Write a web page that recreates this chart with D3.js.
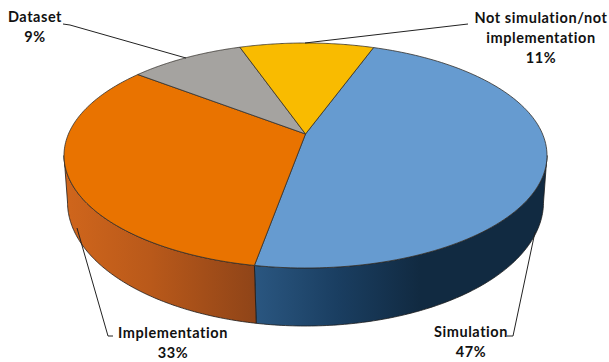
<!DOCTYPE html>
<html><head><meta charset="utf-8">
<script src="https://cdn.jsdelivr.net/npm/d3@7"></script>
<style>html,body{margin:0;background:#fff}svg{display:block}text{font-family:Lato,sans-serif;font-weight:700;font-size:14.5px;fill:#111;text-anchor:middle;letter-spacing:.55px}</style>
</head><body><svg id="c" width="609" height="362"></svg>
<script>
const categories=["Simulation","Implementation","Dataset","Not simulation/not implementation"];
const shares=[47.3,32.7,9.2,10.8];
const topColours=["#669bd0","#e97300","#a5a3a0","#f9bb00"];
const labelLines=[["Simulation","47%"],["Implementation","33%"],["Dataset","9%"],["Not simulation/not","implementation","11%"]];

const cx=305.5;
const upper={rx:241.5,ry:112.5,cy:155.5,k:(155.5-134)/112.5};
const lower={rx:238,ry:124,cy:202,k:0.17};
const startDeg=19.8;
const labelAnchor=[[471,337],[173,338],[35,22],[541,23]];
const leaders=[[[535,232],[513,336],[507,336]],[[77,228],[108,336],[113,336]],[[186,58],[70,25],[63,24]],[[305,43],[468,24]]];

const project=(e,t)=>{const u=Math.sin(t),v=-Math.cos(t),w=1-e.k*v,a=e.rx*Math.sqrt(1-e.k*e.k);
  return [cx+a*u/w, e.cy+(e.ry*v-e.ry*e.k)/w];};
const svg=d3.select("#c");
const defs=svg.append("defs");
const grad=(id,x1,x2,stops)=>{const g=defs.append("linearGradient").attr("id",id).attr("gradientUnits","userSpaceOnUse").attr("x1",x1).attr("x2",x2).attr("y1",0).attr("y2",0);
  stops.forEach(([o,c])=>g.append("stop").attr("offset",o).attr("stop-color",c));};
grad("gOrange",64,256,[[0,"#d0661c"],[.45,"#b9591a"],[1,"#8f4418"]]);
grad("gBlue",256,420,[[0,"#2a5680"],[.5,"#1a3e61"],[1,"#112a41"]]);

const pie=d3.pie().sort(null).startAngle(startDeg*Math.PI/180).endAngle((startDeg+360)*Math.PI/180);
const arcs=pie(shares);
const line=d3.line();
const sample=(e,t0,t1)=>d3.range(0,121).map(i=>project(e,t0+(t1-t0)*i/120));
const tangentR=e=>Math.PI-Math.acos(e.k), tangentL=e=>2*Math.PI-tangentR(e);

[[tangentR,arcs[0].endAngle,"url(#gBlue)"],[tangentL,arcs[1].startAngle,"url(#gOrange)"]].forEach(([tan,seam,fill])=>{
  const up=sample(upper,tan(upper),seam), low=sample(lower,seam,tan(lower));
  svg.append("path").attr("d",line(up.concat(low))+"Z").attr("fill",fill).attr("stroke","#1c1c1c").attr("stroke-width",.8).attr("stroke-linejoin","round");
});
const apex=[cx,134];
svg.selectAll("path.top").data(arcs).join("path").attr("class","top")
  .attr("d",d=>line([apex].concat(sample(upper,d.startAngle,d.endAngle)))+"Z")
  .attr("fill",(d,i)=>topColours[i]).attr("stroke","#33302b").attr("stroke-width",.8).attr("stroke-linejoin","round");

leaders.forEach(p=>svg.append("path").attr("d",line(p)).attr("fill","none").attr("stroke","#222").attr("stroke-width",1));
labelLines.forEach((ls,i)=>{const t=svg.append("text").attr("x",labelAnchor[i][0]).attr("y",labelAnchor[i][1]);
  ls.forEach((l,j)=>t.append("tspan").attr("x",labelAnchor[i][0]).attr("dy",j?20:0).text(l));});
</script></body></html>
